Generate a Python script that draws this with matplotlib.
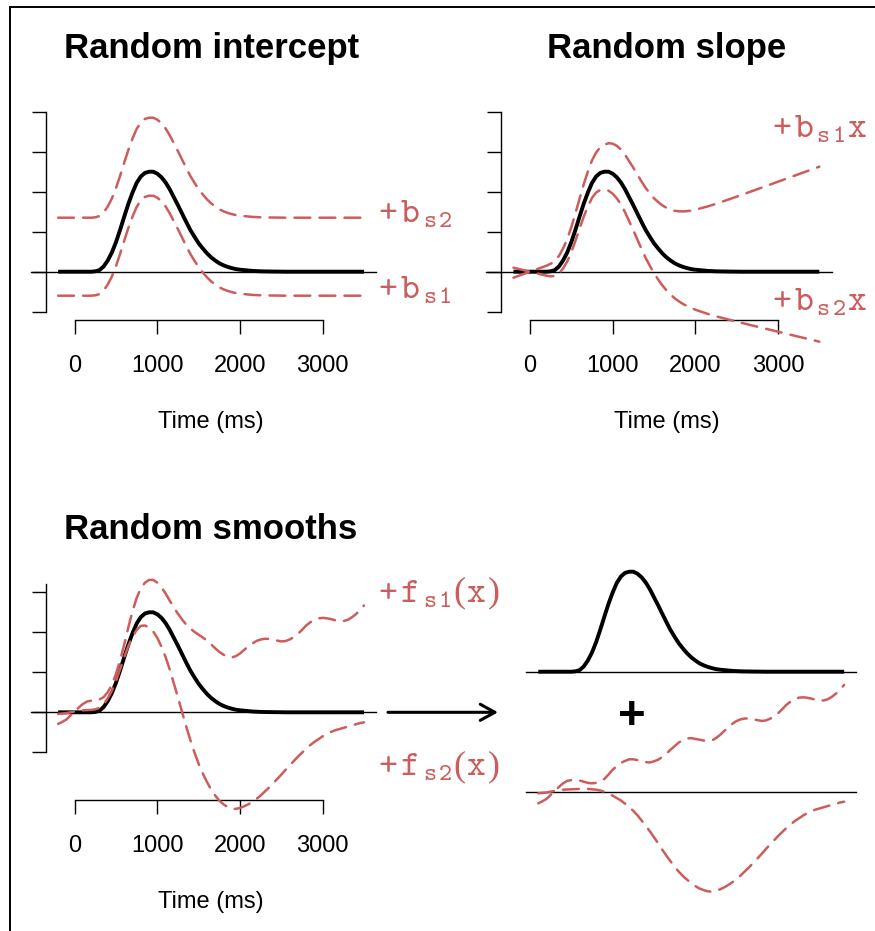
import matplotlib
matplotlib.use("Agg")
import matplotlib.pyplot as plt
from matplotlib.lines import Line2D
import numpy as np

# ---------------- data ----------------
time_ms = list(range(-200, 3501, 50))

mean_curve = [0, 0, 0, 0, 0, 0, 0, 0, 0.0, 0.01, 0.04, 0.13, 0.28, 0.48, 0.74, 1.05,
              1.38, 1.70, 1.98, 2.22, 2.38, 2.47, 2.50, 2.50, 2.45, 2.36, 2.23, 2.06,
              1.86, 1.66, 1.45, 1.24, 1.04, 0.87, 0.71, 0.58, 0.46, 0.36, 0.28, 0.21,
              0.16, 0.12, 0.09, 0.065, 0.05, 0.04, 0.03, 0.02, 0.015, 0.01, 0.008,
              0.006, 0.004, 0.003, 0.002,
              0, 0, 0, 0, 0, 0, 0, 0, 0, 0, 0, 0, 0, 0, 0, 0, 0, 0, 0, 0]

# random intercepts (units of the y axis)
intercept_s1 = -0.6
intercept_s2 = 1.35
# random slopes (units per 1000 ms)
slope_s1 = 0.75
slope_s2 = -0.5

smooth_fs1 = [-0.29, -0.24, -0.18, -0.08, 0.02, 0.12, 0.21, 0.27, 0.29, 0.29, 0.28, 0.25,
              0.22, 0.21, 0.22, 0.25, 0.32, 0.43, 0.55, 0.64, 0.72, 0.77, 0.81, 0.81,
              0.79, 0.76, 0.74, 0.73, 0.76, 0.80, 0.87, 0.95, 1.05, 1.14, 1.23, 1.29,
              1.33, 1.34, 1.32, 1.30, 1.28, 1.27, 1.28, 1.34, 1.42, 1.52, 1.62, 1.70,
              1.77, 1.81, 1.83, 1.83, 1.81, 1.79, 1.77, 1.78, 1.82, 1.88, 1.96, 2.06,
              2.17, 2.25, 2.31, 2.35, 2.36, 2.35, 2.33, 2.30, 2.28, 2.28, 2.31, 2.37,
              2.45, 2.55, 2.67]

smooth_fs2 = [-0.04, -0.03, -0.02, 0.0, 0.02, 0.04, 0.05, 0.055, 0.06, 0.065, 0.07, 0.07,
              0.07, 0.06, 0.05, 0.03, 0.0, -0.04, -0.10, -0.16, -0.22, -0.30, -0.38, -0.48,
              -0.59, -0.72, -0.85, -0.99, -1.14, -1.29, -1.45, -1.60, -1.74, -1.88, -2.00,
              -2.11, -2.20, -2.29, -2.36, -2.42, -2.46, -2.49, -2.50, -2.48, -2.44, -2.39,
              -2.33, -2.26, -2.18, -2.09, -1.99, -1.89, -1.78, -1.67, -1.56, -1.44, -1.33,
              -1.22, -1.11, -1.01, -0.91, -0.82, -0.74, -0.67, -0.60, -0.54, -0.49, -0.45,
              -0.42, -0.39, -0.36, -0.33, -0.30, -0.27, -0.25]

x_ticks = [0, 1000, 2000, 3000]
x_tick_labels = ['0', '1000', '2000', '3000']
y_ticks_row1 = [-1, 0, 1, 2, 3, 4]
y_ticks_row2 = [-1, 0, 1, 2, 3]
titles = ['Random intercept', 'Random slope', 'Random smooths']
x_label = 'Time (ms)'

# ---------------- styling ----------------
W, H, DPI = 875, 931, 100
RED = '#CD5C5C'
SANS = 'Liberation Sans'
MONO = 'cmtt10'
SERIF = 'Liberation Serif'
plt.rcParams['lines.scale_dashes'] = False
DASH = (0, (11.4, 6.6))
LW_BLACK = 2.8
LW_RED = 1.8

t = np.array(time_ms, dtype=float)
mean = np.array(mean_curve)
fs1 = np.array(smooth_fs1)
fs2 = np.array(smooth_fs2)

fig = plt.figure(figsize=(W / DPI, H / DPI), dpi=DPI)

SX = 0.08267       # pixels per ms
SY = 40.0          # pixels per y unit
XLIM = (-348, 3648)


def panel(x_zero_px, y_zero_px, ylim):
    x0 = x_zero_px + XLIM[0] * SX
    x1 = x_zero_px + XLIM[1] * SX
    ytop = y_zero_px - ylim[1] * SY
    ybot = y_zero_px - ylim[0] * SY
    ax = fig.add_axes([x0 / W, 1 - ybot / H, (x1 - x0) / W, (ybot - ytop) / H])
    ax.set_xlim(*XLIM)
    ax.set_ylim(*ylim)
    ax.patch.set_alpha(0)
    return ax


def style_axes(ax, yticks, ybounds, title):
    for s in ('top', 'right'):
        ax.spines[s].set_visible(False)
    ax.spines['left'].set_bounds(*ybounds)
    ax.spines['bottom'].set_bounds(x_ticks[0], x_ticks[-1])
    for s in ('left', 'bottom'):
        ax.spines[s].set_linewidth(1.0)
    ax.set_xticks(x_ticks, x_tick_labels, fontsize=17, family=SANS)
    ax.set_yticks(yticks)
    ax.set_yticklabels([])
    ax.tick_params(direction='out', length=10.3, width=1.0, pad=15)
    ax.set_title(title, fontsize=25, fontweight='bold', family=SANS, pad=32.7)
    return ax


def zero_line(ax, left=-528, y=0):
    ax.plot([left, XLIM[1]], [y, y], color='black', lw=1.0, clip_on=False, zorder=2)


# typewriter-style label: fixed character cells like Courier
BIG, SMALL, PAREN = 26, 18, 26
CELL = {'big': (BIG, 22.4, 0, MONO), 'sub': (SMALL, 15.7, 5, MONO),
        'paren': (PAREN, 12.0, 0, SERIF)}


def red_label(x_cell_left, base_px, pieces):
    x = x_cell_left
    for s, kind in pieces:
        size, adv, dy, fam = CELL[kind]
        for ch in s:
            fig.text((x + adv / 2) / W, 1 - (base_px + dy) / H, ch, fontsize=size,
                     family=fam, color=RED, ha='center', va='baseline')
            x += adv


def xlabel_at(ax, base_px):
    ax.annotate(x_label, xy=(0.5, H - base_px), xycoords=('axes fraction', 'figure pixels'),
                ha='center', va='baseline', fontsize=17, family=SANS)


# ---------- panel 1: random intercept ----------
ax1 = panel(74.67, 271.7, (-1.2, 4.2))
style_axes(ax1, y_ticks_row1, (-1, 4), titles[0])
ax1.plot(t, mean, color='black', lw=LW_BLACK, clip_on=False, zorder=3, solid_capstyle='butt')
zero_line(ax1)
ax1.plot(t, mean + intercept_s2, color=RED, lw=LW_RED, ls=DASH, dash_capstyle='round', clip_on=False, zorder=4)
ax1.plot(t, mean + intercept_s1, color=RED, lw=LW_RED, ls=DASH, dash_capstyle='round', clip_on=False, zorder=4)
xlabel_at(ax1, 428.3)

# ---------- panel 2: random slope ----------
ax2 = panel(530.0, 271.7, (-1.2, 4.2))
style_axes(ax2, y_ticks_row1, (-1, 4), titles[1])
ax2.plot(t, mean, color='black', lw=LW_BLACK, clip_on=False, zorder=3, solid_capstyle='butt')
zero_line(ax2)
ax2.plot(t, mean + slope_s1 * t / 1000.0, color=RED, lw=LW_RED, ls=DASH, dash_capstyle='round', clip_on=False, zorder=4)
ax2.plot(t, mean + slope_s2 * t / 1000.0, color=RED, lw=LW_RED, ls=DASH, dash_capstyle='round', clip_on=False, zorder=4)
xlabel_at(ax2, 428.3)

# ---------- panel 3: random smooths ----------
ax3 = panel(74.67, 712.3, (-2.2, 3.2))
style_axes(ax3, y_ticks_row2, (-1, 3.2), titles[2])
ax3.plot(t, mean, color='black', lw=LW_BLACK, clip_on=False, zorder=3, solid_capstyle='butt')
zero_line(ax3)
ax3.plot(t, mean + fs1, color=RED, lw=LW_RED, ls=DASH, dash_capstyle='round', clip_on=False, zorder=4)
ax3.plot(t, mean + fs2, color=RED, lw=LW_RED, ls=DASH, dash_capstyle='round', clip_on=False, zorder=4)
xlabel_at(ax3, 908.3)
# arrow to the decomposition
ax3.annotate('', xy=(5121, 0), xytext=(3790, 0), xycoords='data', textcoords='data',
             arrowprops=dict(arrowstyle='->,head_length=10.5,head_width=5.8', lw=2.2,
                             color='black', mutation_scale=1, shrinkA=0, shrinkB=0),
             annotation_clip=False)

# ---------- panel 4: decomposition ----------
ax4 = panel(554.8, 791.7, (-2.8, 4.2))
ax4.axis('off')
OFFSET = 3.0
ax4.plot(t, mean + OFFSET, color='black', lw=LW_BLACK, clip_on=False, zorder=3, solid_capstyle='butt')
zero_line(ax4, left=XLIM[0], y=OFFSET)
zero_line(ax4, left=XLIM[0], y=0)
ax4.plot(t, fs1, color=RED, lw=LW_RED, ls=DASH, dash_capstyle='round', clip_on=False, zorder=4)
ax4.plot(t, fs2, color=RED, lw=LW_RED, ls=DASH, dash_capstyle='round', clip_on=False, zorder=4)
fig.text(631.7 / W, 1 - 728.8 / H, '+', fontsize=34, fontweight='bold', family=SANS,
         ha='center', va='baseline')

# ---------- red labels ----------
red_label(376.8, 222, [('+b', 'big'), ('s2', 'sub')])
red_label(376.8, 298.3, [('+b', 'big'), ('s1', 'sub')])
red_label(770.5, 136.7, [('+b', 'big'), ('s1', 'sub'), ('x', 'big')])
red_label(770.5, 310, [('+b', 'big'), ('s2', 'sub'), ('x', 'big')])
red_label(376.8, 601.7, [('+f', 'big'), ('s1', 'sub'), ('(', 'paren'), ('x', 'big'), (')', 'paren')])
red_label(376.8, 775, [('+f', 'big'), ('s2', 'sub'), ('(', 'paren'), ('x', 'big'), (')', 'paren')])

# ---------- frame ----------
fig.add_artist(Line2D([10 / W, 10 / W], [0, 1 - 7 / H], transform=fig.transFigure,
                      color='black', lw=1.4))
fig.add_artist(Line2D([10 / W, 1], [1 - 7 / H, 1 - 7 / H], transform=fig.transFigure,
                      color='black', lw=1.4))

fig.savefig('out.png', dpi=DPI)
